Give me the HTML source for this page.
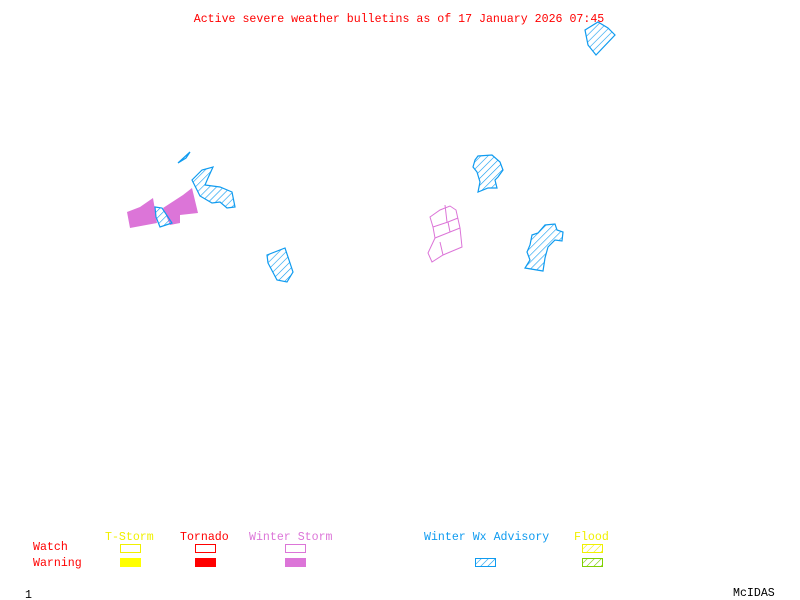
<!DOCTYPE html>
<html><head><style>
body{margin:0;background:#fff;}
svg{display:block}
text{font-family:"Liberation Mono",monospace;font-size:11.6px}
</style></head><body>
<svg width="800" height="600" viewBox="0 0 800 600">
<defs>
<pattern id="h" width="5" height="5" patternUnits="userSpaceOnUse" patternTransform="rotate(45)">
<line x1="0" y1="0" x2="0" y2="5" stroke="#0f9bf0" stroke-width="1.2"/></pattern>
<pattern id="hy" width="5" height="5" patternUnits="userSpaceOnUse" patternTransform="rotate(45)">
<line x1="0" y1="0" x2="0" y2="5" stroke="#f0f000" stroke-width="1.2"/></pattern>
<pattern id="hg" width="5" height="5" patternUnits="userSpaceOnUse" patternTransform="rotate(45)">
<line x1="0" y1="0" x2="0" y2="5" stroke="#7fd000" stroke-width="1.2"/></pattern>
</defs>
<text x="399" y="22" fill="#ff0000" text-anchor="middle">Active severe weather bulletins as of 17 January 2026 07:45</text>
<g stroke="#0f9bf0" stroke-width="1.2" fill="url(#h)">
<polygon points="585,30 598,22 608,28 615,35 596,55 588,45"/>
<polygon points="178,163 190,152 186,158"/>
<polygon points="192,180 202,170 213,167 208,178 205,185 220,187 232,192 235,207 227,208 220,202 212,203 200,196"/>
<polygon points="267,255 285,248 293,272 287,282 277,280 268,263"/>
<polygon points="475,160 478,156 492,155 500,162 503,170 498,177 495,180 497,188 488,188 478,192 480,182 477,172 473,167"/>
<polygon points="532,235 538,233 545,225 555,224 557,230 563,232 562,241 555,240 548,247 545,258 543,271 525,268 530,260 527,252 530,245"/>
</g>
<g fill="#dc75d8">
<polygon points="127,212 140,207 153,198 155,210 157,223 130,228"/>
<polygon points="163,208 183,195 192,188 198,213 180,215 180,223 170,225"/>
</g>
<polygon points="155,207 162,208 172,223 160,227 156,217" stroke="#0f9bf0" stroke-width="1.2" fill="url(#h)"/>
<g stroke="#dc75d8" fill="none" stroke-width="1">
<polygon points="430,217 440,210 450,206 456,210 460,228 462,247 443,255 432,262 428,253 435,238 433,227"/>
<path d="M433,227 L448,222 L458,218 M435,238 L450,232 L460,228 M443,255 L440,242 M445,205 L447,222 M448,222 L450,232"/>
</g>
<text x="33" y="550" fill="#ff0000">Watch</text>
<text x="33" y="566" fill="#ff0000">Warning</text>
<text x="105" y="540" fill="#f0f000">T-Storm</text>
<text x="180" y="540" fill="#ff0000">Tornado</text>
<text x="249" y="540" fill="#dc75d8">Winter Storm</text>
<text x="424" y="540" fill="#0f9bf0">Winter Wx Advisory</text>
<text x="574" y="540" fill="#f0f000">Flood</text>
<rect x="120.5" y="544.5" width="20" height="8" fill="none" stroke="#f0f000"/>
<rect x="120" y="558" width="21" height="9" fill="#ffff00"/>
<rect x="195.5" y="544.5" width="20" height="8" fill="none" stroke="#ff0000"/>
<rect x="195" y="558" width="21" height="9" fill="#ff0000"/>
<rect x="285.5" y="544.5" width="20" height="8" fill="none" stroke="#dc75d8"/>
<rect x="285" y="558" width="21" height="9" fill="#dc75d8"/>
<rect x="475.5" y="558.5" width="20" height="8" fill="url(#h)" stroke="#0f9bf0"/>
<rect x="582.5" y="544.5" width="20" height="8" fill="url(#hy)" stroke="#f0f000"/>
<rect x="582.5" y="558.5" width="20" height="8" fill="url(#hg)" stroke="#7fd000"/>
<text x="25" y="598" fill="#000">1</text>
<text x="733" y="596" fill="#000">McIDAS</text>
</svg>
</body></html>
